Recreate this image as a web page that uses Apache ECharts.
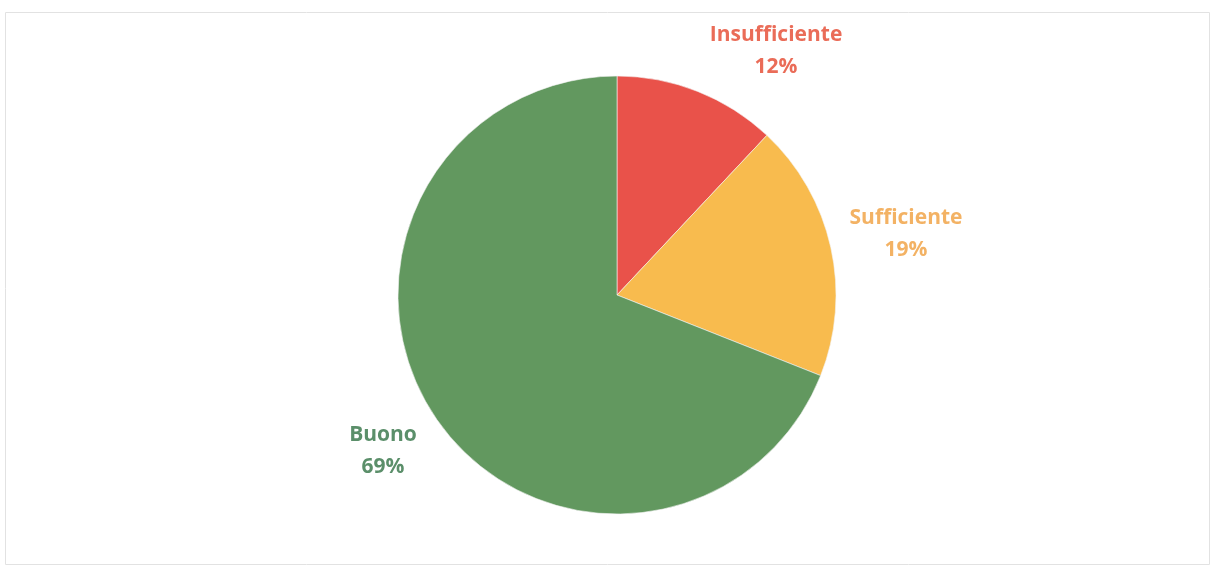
<!DOCTYPE html>
<html><head><meta charset="utf-8">
<script src="https://cdn.jsdelivr.net/npm/echarts@6/dist/echarts.min.js"></script>
<style>html,body{margin:0;padding:0;background:#fff}#c{width:1212px;height:569px}</style>
</head><body><div id="c"></div>
<script>
const categories = ['Insufficiente', 'Sufficiente', 'Buono'];
const values = [12, 19, 69];
const sliceColors = ['#e9524a', '#f8bb4e', '#62985f'];
const labelColors = ['#ea6c58', '#f3b264', '#5b8f6a'];
const labelPos = [[776, 51], [906, 234], [383, 451]];

const chart = echarts.init(document.getElementById('c'));
chart.setOption({
  animation: false,
  graphic: [{
    type: 'rect', shape: {x: 5.5, y: 12.5, width: 1204, height: 552},
    style: {fill: 'none', stroke: '#e2e2e2', lineWidth: 1}, silent: true
  }],
  series: [{
    type: 'pie',
    center: [617, 295],
    radius: 219,
    startAngle: 90,
    clockwise: true,
    avoidLabelOverlap: false,
    itemStyle: {borderColor: '#f4f4f4', borderWidth: 0.6},
    labelLine: {show: false},
    label: {
      show: true,
      position: 'outside',
      formatter: p => p.name + '\n' + p.value + '%',
      fontFamily: 'Open Sans, Noto Sans, sans-serif',
      fontWeight: 'bold',
      fontSize: 21,
      lineHeight: 32,
      align: 'center',
      verticalAlign: 'middle'
    },
    labelLayout: p => ({x: labelPos[p.dataIndex][0], y: labelPos[p.dataIndex][1], align: 'center', verticalAlign: 'middle'}),
    data: categories.map((c, i) => ({
      name: c, value: values[i],
      itemStyle: {color: sliceColors[i]},
      label: {color: labelColors[i]}
    }))
  }]
});
</script></body></html>
